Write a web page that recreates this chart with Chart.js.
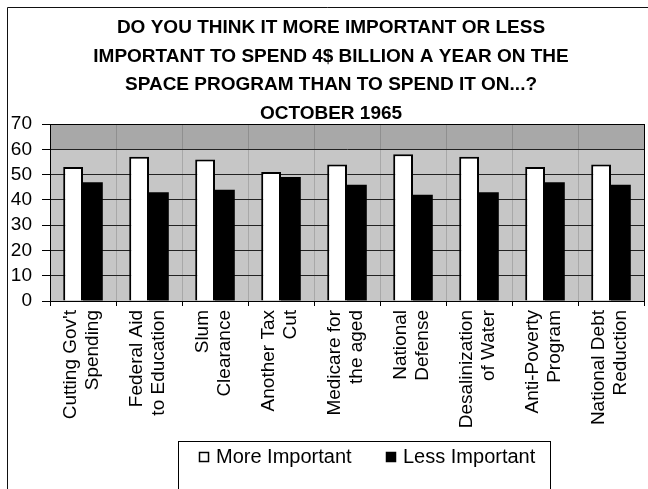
<!DOCTYPE html>
<html lang="en">
<head>
    <meta charset="UTF-8">
    <title>Space Program Spending Poll - October 1965</title>
    <script src="https://cdn.jsdelivr.net/npm/chart.js"></script>
    <style>
        body, html {
            margin: 0;
            padding: 0;
            background: #ffffff;
        }
        #chart {
            display: block;
        }
    </style>
</head>
<body>
    <canvas id="chart" width="648" height="489"></canvas>

    <script>
        var categories = [
            ["Cutting Gov't", "Spending"],
            ["Federal Aid", "to Education"],
            ["Slum", "Clearance"],
            ["Another Tax", "Cut"],
            ["Medicare for", "the aged"],
            ["National", "Defense"],
            ["Desalinization", "of Water"],
            ["Anti-Poverty", "Program"],
            ["National Debt", "Reduction"]
        ];
        var moreImportant = [53, 57, 56, 51, 54, 58, 57, 53, 54];
        var lessImportant = [47, 43, 44, 49, 46, 42, 43, 47, 46];
        var yTicks = [0, 10, 20, 30, 40, 50, 60, 70];

        var titleLines = [
            'DO YOU THINK IT MORE IMPORTANT OR LESS',
            'IMPORTANT TO SPEND 4$ BILLION A YEAR ON THE',
            'SPACE PROGRAM THAN TO SPEND IT ON...?',
            'OCTOBER 1965'
        ];

        var FONT = 'Liberation Sans, Arial, sans-serif';

        // gray plot background with the darker band above 60, plus outer frame
        var backdrop = {
            id: 'backdrop',
            afterLayout: function(chart) {
                // title sits a little right of the canvas centre
                if (chart.titleBlock) {
                    chart.titleBlock.left = 18;
                }
            },
            beforeDraw: function(chart) {
                var ctx = chart.ctx;
                var a = chart.chartArea;
                var y = chart.scales.y;
                ctx.save();
                ctx.fillStyle = '#ffffff';
                ctx.fillRect(0, 0, chart.width, chart.height);
                ctx.fillStyle = '#c6c6c6';
                ctx.fillRect(a.left, a.top, a.right - a.left, a.bottom - a.top);
                var y60 = y.getPixelForValue(60);
                ctx.fillStyle = '#a8a8a8';
                ctx.fillRect(a.left, a.top, a.right - a.left, y60 - a.top);

                ctx.strokeStyle = '#111';
                ctx.lineWidth = 1;
                ctx.beginPath();
                ctx.moveTo(7.5, chart.height);
                ctx.lineTo(7.5, 7.5);
                ctx.lineTo(chart.width, 7.5);
                ctx.stroke();
                ctx.restore();
            },
            afterDraw: function(chart) {
                var ctx = chart.ctx;
                var a = chart.chartArea;
                ctx.save();
                ctx.strokeStyle = '#000';
                ctx.lineWidth = 1;
                ctx.strokeRect(Math.round(a.left) + 0.5, Math.round(a.top) + 0.5,
                    Math.round(a.right - a.left), Math.round(a.bottom - a.top));
                ctx.restore();
            }
        };

        // boxed legend under the axis labels
        var boxLegend = {
            id: 'boxLegend',
            afterDraw: function(chart) {
                var ctx = chart.ctx;
                ctx.save();
                ctx.strokeStyle = '#000';
                ctx.lineWidth = 1;
                ctx.fillStyle = '#fff';
                ctx.fillRect(178.5, 441.5, 372, 60);
                ctx.strokeRect(178.5, 441.5, 372, 60);

                var xs = [199, 386];
                ctx.font = '20px ' + FONT;
                ctx.textBaseline = 'middle';
                chart.data.datasets.forEach(function(ds, i) {
                    ctx.fillStyle = ds.backgroundColor;
                    ctx.fillRect(xs[i], 452, 10, 10);
                    ctx.strokeStyle = '#000';
                    ctx.lineWidth = 1.5;
                    ctx.strokeRect(xs[i] + 0.5, 452.5, 9, 9);
                    ctx.fillStyle = '#000';
                    ctx.fillText(ds.label, xs[i] + 17, 457);
                });
                ctx.restore();
            }
        };

        window.onload = function() {
            var ctx = document.getElementById('chart').getContext('2d');
            var chart = new Chart(ctx, {
                type: 'bar',
                data: {
                    labels: categories,
                    datasets: [{
                        label: 'More Important',
                        data: moreImportant,
                        backgroundColor: '#ffffff',
                        borderColor: '#000000',
                        borderWidth: 2,
                        categoryPercentage: 0.6,
                        barPercentage: 1.0
                    }, {
                        label: 'Less Important',
                        data: lessImportant,
                        backgroundColor: '#000000',
                        borderColor: '#000000',
                        borderWidth: 0,
                        categoryPercentage: 0.6,
                        barPercentage: 1.0
                    }]
                },
                options: {
                    responsive: false,
                    animation: false,
                    devicePixelRatio: 1,
                    layout: {
                        padding: { left: 0, right: 4, top: 0, bottom: 48 }
                    },
                    plugins: {
                        legend: { display: false },
                        tooltip: { enabled: false },
                        title: {
                            display: true,
                            text: titleLines,
                            color: '#000',
                            font: { family: FONT, size: 19, weight: 'bold', lineHeight: 1.5 },
                            padding: { top: 14, bottom: -4 }
                        }
                    },
                    scales: {
                        x: {
                            grid: {
                                offset: true,
                                color: 'rgba(0,0,0,0.15)',
                                tickColor: '#000',
                                tickLength: 5
                            },
                            border: { color: '#000', width: 1 },
                            ticks: {
                                color: '#000',
                                font: { family: FONT, size: 19, lineHeight: 1.12 },
                                maxRotation: 90,
                                minRotation: 90,
                                autoSkip: false,
                                labelOffset: -12,
                                padding: 4
                            },
                            afterFit: function(scale) {
                                scale.height = 140;
                                scale.paddingLeft = 0;
                                scale.paddingRight = 0;
                            }
                        },
                        y: {
                            min: 0,
                            max: 70,
                            afterBuildTicks: function(scale) {
                                scale.ticks = yTicks.map(function(v) { return { value: v }; });
                            },
                            grid: {
                                color: '#222',
                                lineWidth: 1,
                                tickColor: '#000',
                                tickLength: 8
                            },
                            border: { color: '#000', width: 1 },
                            ticks: {
                                color: '#000',
                                font: { family: FONT, size: 19 },
                                autoSkip: false,
                                padding: 10
                            },
                            afterFit: function(scale) {
                                scale.width = 50;
                                scale.paddingTop = 0;
                                scale.paddingBottom = 0;
                            }
                        }
                    }
                },
                plugins: [backdrop, boxLegend]
            });
        };
    </script>
</body>
</html>
